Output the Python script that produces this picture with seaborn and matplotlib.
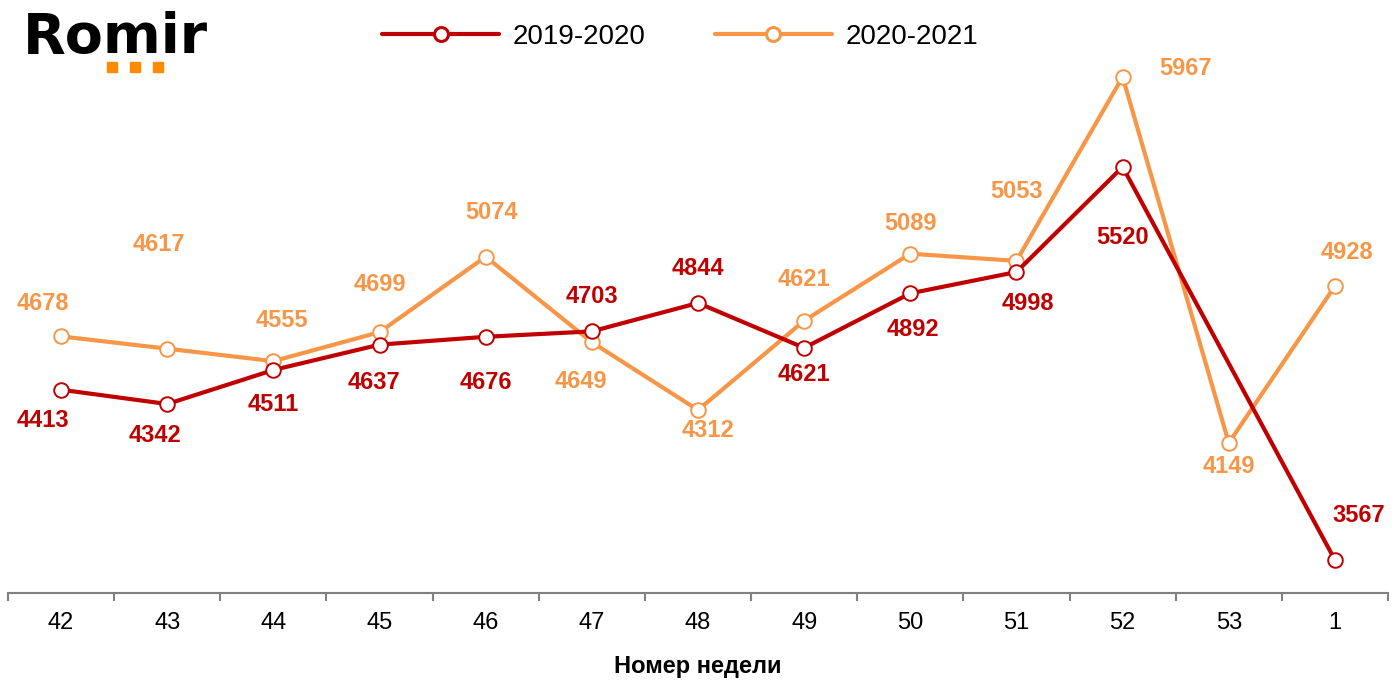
import numpy as np
import pandas as pd
import seaborn as sns
from matplotlib import pyplot as plt
from matplotlib.patches import Rectangle
from matplotlib.lines import Line2D

weeks = ['42', '43', '44', '45', '46', '47', '48', '49', '50', '51', '52', '53', '1']
season_a = '2019-2020'
season_b = '2020-2021'
values_a = [4413, 4342, 4511, 4637, 4676, 4703, 4844, 4621, 4892, 4998, 5520, np.nan, 3567]
# week 49 of 2020-2021 is drawn at ~4756 in the source although its label reads 4621
values_b = [4678, 4617, 4555, 4699, 5074, 4649, 4312, 4756, 5089, 5053, 5967, 4149, 4928]
labels_a = ['4413', '4342', '4511', '4637', '4676', '4703', '4844', '4621', '4892', '4998', '5520', '', '3567']
labels_b = ['4678', '4617', '4555', '4699', '5074', '4649', '4312', '4621', '5089', '5053', '5967', '4149', '4928']

# label offsets in points (dx, dy), tuned to the reference layout
offsets_a = [(-13, -22), (-9, -23), (0, -25), (-4, -27), (0, -33), (0, 25), (0, 25),
             (0, -19), (2, -26), (8, -23), (0, -51), None, (17, 32)]
offsets_b = [(-13, 24), (-6, 75), (6, 29), (0, 34), (4, 32), (-8, -28), (7, -15),
             (0, 30), (0, 22), (0, 50), (45, 6), (0, -17), (9, 24)]

red = '#C00000'
orange = '#F79646'


def build_frame():
    rows = []
    for season, values in [(season_a, values_a), (season_b, values_b)]:
        for pos, (week, val) in enumerate(zip(weeks, values)):
            rows.append([season, pos, week, val])
    df = pd.DataFrame(rows, columns=['season', 'pos', 'week', 'value'])
    # missing week is bridged by the line, not drawn as a gap
    return df.dropna()


def plot():
    sns.set_style('white')
    plt.rcParams['font.family'] = ['Liberation Sans', 'DejaVu Sans']

    data = build_frame()

    fig = plt.figure(figsize=(13.94, 7.0), dpi=100)
    ax = fig.add_axes([8 / 1394, 1 - 593 / 700, 1380 / 1394, 543 / 700])

    series = [(season_a, red, offsets_a, labels_a), (season_b, orange, offsets_b, labels_b)]
    for season, color, offsets, labels in series:
        sub = data[data['season'] == season]
        sns.lineplot(data=sub, x='pos', y='value', ax=ax, color=color, linewidth=3.0,
                     marker='o', markersize=10.5, markerfacecolor='white',
                     markeredgecolor=color, markeredgewidth=1.4, sort=True,
                     estimator=None, legend=False, zorder=3 if season == season_a else 2)
        for pos, val in zip(sub['pos'], sub['value']):
            dx, dy = offsets[pos]
            ax.annotate(labels[pos], (pos, val), xytext=(dx, dy), textcoords='offset points',
                        ha='center', va='center', fontsize=17, fontweight='bold', color=color)

    ax.set_xlim(-0.5, len(weeks) - 0.5)
    ax.set_ylim(3403, 6101)
    ax.set_xticks(range(len(weeks)))
    ax.set_xticklabels(weeks, fontsize=17, color='black')
    ax.set_xticks(np.arange(-0.5, len(weeks)), minor=True)
    ax.tick_params(axis='x', which='major', bottom=False, length=0, pad=14)
    ax.tick_params(axis='x', which='minor', bottom=True, length=5.5, width=1.5,
                   color='#808080', direction='out')
    ax.set_yticks([])
    ax.set_ylabel('')
    ax.set_xlabel('Номер недели', fontsize=17, fontweight='bold', color='black', labelpad=15)
    sns.despine(ax=ax, top=True, right=True, left=True)
    ax.spines['bottom'].set_color('#808080')
    ax.spines['bottom'].set_linewidth(1.5)

    handles = [Line2D([], [], color=c, linewidth=3.0, marker='o', markersize=10,
                      markerfacecolor='white', markeredgecolor=c, markeredgewidth=2.2)
               for c in (red, orange)]
    leg = fig.legend(handles, [season_a, season_b], loc='center', bbox_to_anchor=(0.488, 0.947),
                     ncol=2, frameon=False, fontsize=20, handlelength=4.2, handletextpad=0.5,
                     columnspacing=2.5)
    for t in leg.get_texts():
        t.set_color('black')

    # Romir logo
    fig.text(23 / 1394, 1 - 53 / 700, 'Romir', family='DejaVu Sans', fontweight='bold',
             fontsize=40, color='black', ha='left', va='baseline')
    for x0 in (107, 130, 153):
        fig.patches.append(Rectangle((x0 / 1394, 1 - 72 / 700), 10 / 1394, 10 / 700,
                                     transform=fig.transFigure, color='#FF8C00', zorder=5))

    plt.savefig('out.png', dpi=100)


if __name__ == '__main__':
    plot()
